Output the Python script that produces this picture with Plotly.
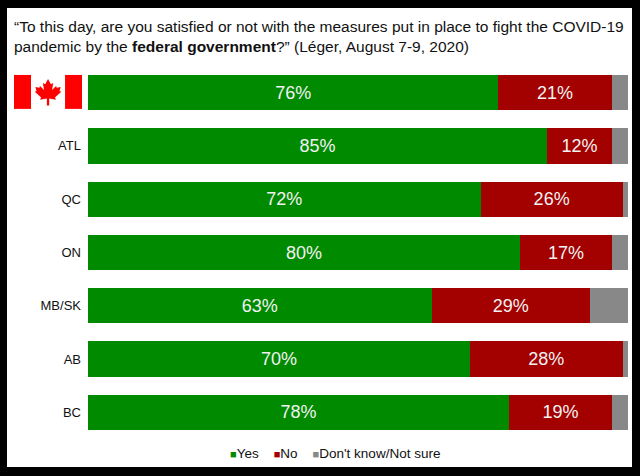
import plotly.graph_objects as go

regions = ["Canada", "ATL", "QC", "ON", "MB/SK", "AB", "BC"]
region_labels = ["", "ATL", "QC", "ON", "MB/SK", "AB", "BC"]
yes = [76, 85, 72, 80, 63, 70, 78]
no = [21, 12, 26, 17, 29, 28, 19]
dont_know = [3, 3, 1, 3, 7, 1, 3]
legend_names = ["Yes", "No", "Don't know/Not sure"]

GREEN = "#008a00"
RED = "#a30000"
GREY = "#888888"
colors = [GREEN, RED, GREY]

fig = go.Figure()
fig.add_trace(go.Bar(y=regions, x=yes, name=legend_names[0], orientation="h",
                     marker=dict(color=GREEN, line=dict(width=0)),
                     text=yes, texttemplate="%{text}%", textposition="inside",
                     insidetextanchor="middle"))
fig.add_trace(go.Bar(y=regions, x=no, name=legend_names[1], orientation="h",
                     marker=dict(color=RED, line=dict(width=0)),
                     text=no, texttemplate="%{text}%", textposition="inside",
                     insidetextanchor="middle"))
fig.add_trace(go.Bar(y=regions, x=dont_know, name=legend_names[2],
                     orientation="h",
                     marker=dict(color=GREY, line=dict(width=0)),
                     texttemplate="", hoverinfo="x+name"))

fig.update_traces(textfont=dict(size=18, color="#f2f2f2",
                                family="Liberation Sans, Arial"))

# white card on black frame
fig.add_shape(type="rect", xref="paper", yref="paper",
              x0=-0.15, x1=1.0074, y0=-0.075, y1=1.1555,
              fillcolor="white", line=dict(width=0), layer="below")

# canadian flag for the first row
for x0, x1, col in [(-0.137, -0.1055, "#ff0000"), (-0.1055, -0.0425, "white"),
                    (-0.0425, -0.0111, "#ff0000")]:
    fig.add_shape(type="rect", xref="paper", yref="paper",
                  x0=x0, x1=x1, y0=0.885, y1=0.976,
                  fillcolor=col, line=dict(width=0))

half = [(0, 13), (2.5, 8.5), (4.5, 9.5), (3.5, 3.5), (7, 7), (7.5, 5.5),
        (11, 6), (10, 2.5), (11.5, 2), (6, -3), (7, -5), (1, -4), (1, -10)]
pts = half + [(-x, y) for x, y in reversed(half)]
leaf = "M " + " L ".join(f"{x * 1.15:.2f},{y * 1.15:.2f}" for x, y in pts) + " Z"
fig.add_shape(type="path", xref="paper", yref="paper",
              xsizemode="pixel", ysizemode="pixel",
              xanchor=-0.074, yanchor=0.925, path=leaf,
              fillcolor="#ff0000", line=dict(width=0))

# question as a two-line heading
title = ("“To this day, are you satisfied or not with the measures put in place to fight the COVID-19"
         "<br>pandemic by the <b>federal government</b>?” (Léger, August 7-9, 2020)")
fig.add_annotation(text=title, xref="paper", yref="paper",
                   x=-0.141, y=1.134, xanchor="left", yanchor="top",
                   align="left", showarrow=False,
                   font=dict(size=15.5, color="#111111"))

# legend drawn as text, small squares close to the labels
legend_text = "    ".join(
    f"<span style='color:{c};font-size:11px'>■</span>{n}"
    for c, n in zip(colors, legend_names))
fig.add_annotation(text=legend_text, xref="paper", yref="paper",
                   x=0.457, y=-0.04, xanchor="center", yanchor="middle",
                   showarrow=False, font=dict(size=13.5, color="#111111"))

fig.update_layout(
    width=640, height=476,
    barmode="stack", barnorm="percent", bargap=0.34,
    paper_bgcolor="black", plot_bgcolor="white",
    margin=dict(l=88, r=12, t=66, b=37, autoexpand=False),
    font=dict(family="Liberation Sans, Arial", color="#111111"),
    xaxis=dict(range=[0, 100], visible=False, fixedrange=True),
    yaxis=dict(autorange="reversed", tickvals=regions, ticktext=region_labels,
               ticks="", showline=False, showgrid=False,
               tickfont=dict(size=13, color="#111111"), ticklabelstandoff=6),
    showlegend=False,
)

fig.write_html("out.html", config={"displayModeBar": False},
               post_script="document.body.style.margin='0';")
